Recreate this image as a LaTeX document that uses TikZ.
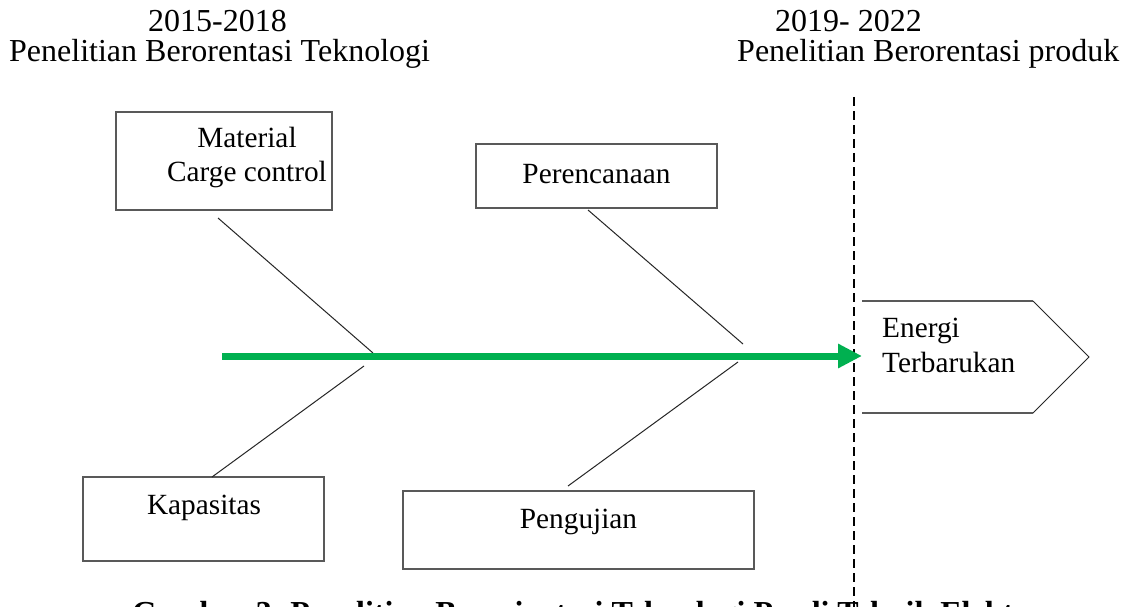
\documentclass[tikz,border=0pt]{standalone}
\usepackage{fontspec}
\setmainfont{Liberation Serif}
\usetikzlibrary{arrows.meta}
\begin{document}
\begin{tikzpicture}[x=1pt,y=-1pt,
  boxline/.style={draw=black!65,line width=1.3pt},
  fbox/.style={boxline,rectangle,inner sep=0pt,fill=white},
  bone/.style={draw=black!85,line width=1pt},
  hdr/.style={inner sep=0pt,font=\fontsize{32}{38}\selectfont},
  lbl/.style={inner sep=0pt,font=\fontsize{29.3}{34}\selectfont},
  spine/.style={draw={rgb,255:red,0;green,176;blue,80},line width=7pt,
     -{Triangle[length=24pt,width=23pt]}}
]
\clip (0,0) rectangle (1127,607);
\fill[white] (0,0) rectangle (1127,607);

% headers
\node[hdr,anchor=base west] (h1) at (148,32) {2015-2018};
\node[hdr,anchor=base west] (h2) at (9,62) {Penelitian Berorentasi Teknologi};
\node[hdr,anchor=base west] (h3) at (775,32) {2019- 2022};
\node[hdr,anchor=base west] (h4) at (737,62) {Penelitian Berorentasi produk};

% dashed divider
\coordinate (dtop) at (854,97);
\coordinate (dbot) at (854,640);
\draw[line width=2pt,dash pattern=on 9pt off 5pt] (dtop) -- (dbot);

% boxes
\node[fbox,minimum width=216pt,minimum height=98pt] (mat) at (224,161) {};
\node[lbl,anchor=base] (matt1) at (247,147) {Material};
\node[lbl,anchor=base] (matt2) at (247,181) {Carge control};

\node[fbox,minimum width=241pt,minimum height=64pt] (per) at (596.5,176) {};
\node[lbl,anchor=base] (pert) at (596.5,183) {Perencanaan};

\node[fbox,minimum width=241pt,minimum height=84pt] (kap) at (203.5,519) {};
\node[lbl,anchor=base] (kapt) at (204,514) {Kapasitas};

\node[fbox,minimum width=351pt,minimum height=78pt] (pen) at (578.5,530) {};
\node[lbl,anchor=base] (pent) at (578.5,528) {Pengujian};

% target pentagon
\draw[boxline] (862,301) -- (1033,301);
\draw[draw=black!85,line width=1pt] (1033,301) -- (1089,357) -- (1033,413);
\draw[boxline] (1033,413) -- (862,413) -- cycle;
\node[lbl,anchor=base west] (en1) at (882,337) {Energi};
\node[lbl,anchor=base west] (en2) at (882,372) {Terbarukan};

% bones
\coordinate (b1s) at (218,218); \coordinate (b1e) at (373,353);
\coordinate (b2s) at (364,366); \coordinate (b2e) at (212,477);
\coordinate (b3s) at (588,210); \coordinate (b3e) at (743,344);
\coordinate (b4s) at (738,362); \coordinate (b4e) at (568,486);
\draw[bone] (b1s) -- (b1e);
\draw[bone] (b2s) -- (b2e);
\draw[bone] (b3s) -- (b3e);
\draw[bone] (b4s) -- (b4e);

% spine arrow
\coordinate (tail) at (222,356);
\coordinate (head) at (862,356);
\draw[spine] (tail) -- (head);

% caption (clipped at bottom, as in the reference)
\node[anchor=base west,inner sep=0pt,font=\fontsize{32}{38}\selectfont\bfseries] (cap) at (132,623)
  {Gambar 3. Penelitian Berorientasi Teknologi Prodi Teknik Elektro};
\end{tikzpicture}
\end{document}
